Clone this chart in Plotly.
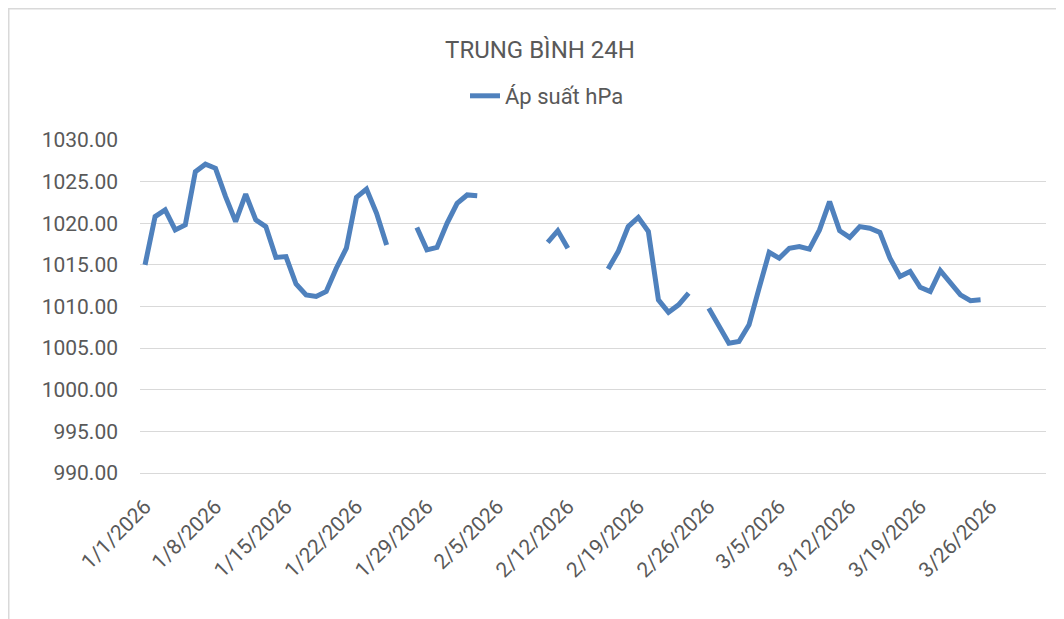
import pandas as pd
import plotly.graph_objects as go

# daily dates, 1/1/2026 .. 3/25/2026
dates = pd.date_range("2026-01-01", "2026-03-25", freq="D")

# 24h average pressure (hPa), None = missing day
pressure = [
    1015.0, 1020.8, 1021.6, 1019.2, 1019.8, 1026.2, 1027.1, 1026.6, 1023.2, 1020.2,
    1023.5, 1020.4, 1019.6, 1015.9, 1016.0, 1012.7, 1011.4, 1011.2, 1011.8, 1014.6,
    1017.0, 1023.1, 1024.1, 1021.2, 1017.4, None, None, 1019.5, 1016.8, 1017.1,
    1020.0, 1022.4, 1023.4, 1023.3, None, None, None, None, None, None,
    1017.7, 1019.1, 1017.0, None, None, None, 1014.5, 1016.6, 1019.6, 1020.7,
    1019.0, 1010.8, 1009.3, 1010.2, 1011.6, None, 1009.8, 1007.6, 1005.6, 1005.8,
    1007.8, 1012.2, 1016.5, 1015.8, 1017.0, 1017.2, 1016.9, 1019.2, 1022.6, 1019.1,
    1018.3, 1019.6, 1019.4, 1018.9, 1015.8, 1013.6, 1014.2, 1012.3, 1011.8, 1014.3,
    1012.8, 1011.4, 1010.7, 1010.8,
]

series_name = "Áp suất hPa"
chart_title = "TRUNG BÌNH 24H"

FONT = "Roboto, Open Sans, sans-serif"
GREY = "#595959"
GRID = "#D9D9D9"
BLUE = "#4F81BD"

# the page body adds an 8px offset, so everything is placed 8px up/left
L, T, PW, PH = 132, 132, 906, 333

fig = go.Figure()
fig.add_trace(go.Scatter(
    x=dates, y=pressure, mode="lines", name=series_name,
    line=dict(color=BLUE, width=5),
    connectgaps=False,
))

fig.update_layout(
    width=1064, height=619,
    margin=dict(l=L, r=1064 - L - PW, t=T, b=619 - T - PH, autoexpand=False),
    paper_bgcolor="white", plot_bgcolor="white",
    font=dict(family=FONT, color=GREY, size=21),
    title=dict(text=chart_title, x=532 / 1064, xanchor="center",
               y=1 - 42 / 619, yanchor="middle",
               font=dict(size=24, color=GREY)),
    showlegend=True,
    legend=dict(orientation="h", x=539 / 1064, xref="container", xanchor="center",
                y=1 + 44 / PH, yanchor="middle",
                font=dict(size=22, color=GREY)),
    xaxis=dict(
        type="date",
        range=["2025-12-31 12:00", "2026-03-31 12:00"],
        tick0="2026-01-01", dtick=7 * 86400000,
        tickformat="%-m/%-d/%Y", tickangle=-45,
        showgrid=False, zeroline=False,
        showline=True, linecolor=GRID, linewidth=1,
        ticks="", ticklabelstandoff=12,
        tickfont=dict(size=21, color=GREY),
        automargin=False,
    ),
    yaxis=dict(
        range=[990, 1030], dtick=5, tickformat=".2f",
        showgrid=True, gridcolor=GRID, gridwidth=1,
        zeroline=False, showline=False, ticks="",
        ticklabelstandoff=21,
        tickfont=dict(size=21, color=GREY),
        automargin=False,
    ),
    shapes=[dict(type="rect", xref="paper", yref="paper",
                 x0=-(L - 0.75) / PW, x1=1.2, y0=-0.7, y1=1 + (T - 0.75) / PH,
                 line=dict(color=GRID, width=1.5), fillcolor="rgba(0,0,0,0)")],
)

fig.write_html("out.html")
